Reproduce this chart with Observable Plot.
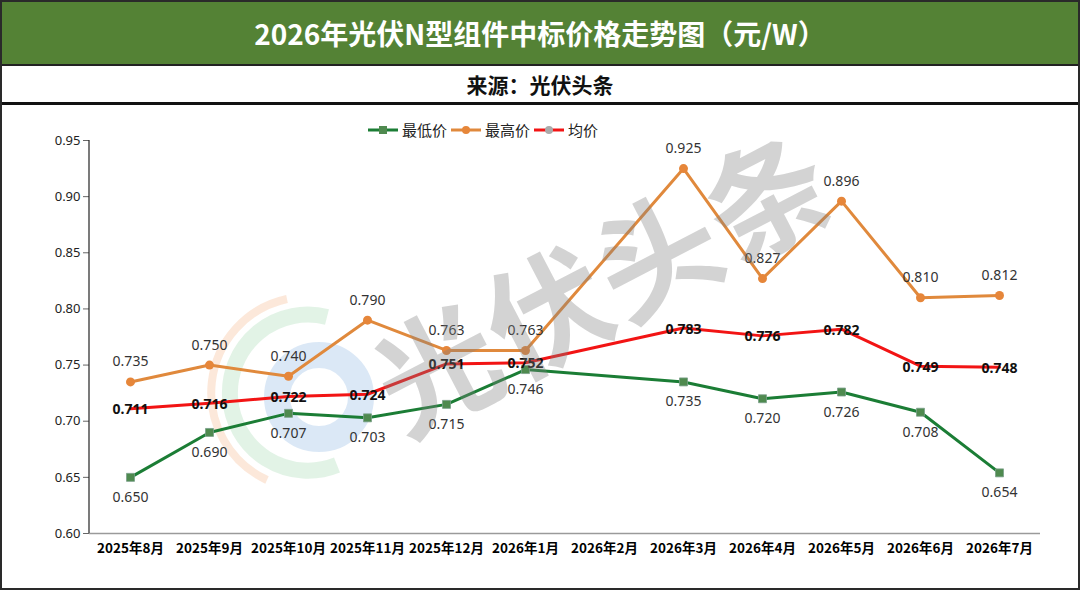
<!DOCTYPE html>
<html><head><meta charset="utf-8">
<script src="https://cdn.jsdelivr.net/npm/d3@7"></script>
<script src="https://cdn.jsdelivr.net/npm/@observablehq/plot@0.6"></script>
<style>
body{margin:0;background:#fff;font-family:"Noto Sans CJK SC","Noto Sans",sans-serif;}
#wrap{width:1080px;height:590px;box-sizing:border-box;border:2px solid #2a2a2a;position:relative;overflow:hidden;background:#fff;}
#title{height:62px;background:#548235;color:#fff;font-weight:700;font-size:28px;text-align:center;line-height:62px;border-bottom:2px solid #222;letter-spacing:0px;}
#sub{height:36px;font-weight:700;font-size:21px;line-height:36px;text-align:center;color:#111;border-bottom:3px solid #111;}
#chart{position:relative;height:483px;}
#chart svg.plot{position:absolute;left:0;top:0;z-index:2;}
#legend{position:absolute;left:366px;top:14px;z-index:3;display:flex;align-items:center;font-size:15px;color:#222;}
#legend .it{display:flex;align-items:center;margin-right:4px;}
#legend svg{margin-right:4px;}
#logo{position:absolute;left:0;top:0;z-index:1;}
#wm{position:absolute;z-index:4;left:598px;top:172px;transform:translate(-50%,-50%) rotate(-27.5deg);font-size:122px;font-weight:700;color:#808080;opacity:0.34;letter-spacing:2px;white-space:nowrap;pointer-events:none;line-height:1;}
</style></head>
<body>
<div id="wrap">
  <div id="title"></div>
  <div id="sub"></div>
  <div id="chart">
    <svg id="logo" width="1076" height="483">
      <g transform="translate(305,288)" fill="none">
        <path d="M -20 -94 A 96 96 0 0 0 -40 87" stroke="rgba(245,190,150,0.35)" stroke-width="8"/>
        <path d="M 20 -76 A 78 78 0 1 0 30 72" stroke="rgba(190,228,200,0.45)" stroke-width="16"/>
        <circle cx="12" cy="4" r="42" stroke="rgba(175,205,235,0.45)" stroke-width="26"/>
      </g>
    </svg>
    <div id="legend"></div>
    <div id="wm">光伏头条</div>
  </div>
</div>
<script>
const titleText = "2026年光伏N型组件中标价格走势图（元/W）";
const subText = "来源：光伏头条";
const months = ["2025年8月","2025年9月","2025年10月","2025年11月","2025年12月","2026年1月","2026年2月","2026年3月","2026年4月","2026年5月","2026年6月","2026年7月"];
const minPrice = [0.650,0.690,0.707,0.703,0.715,0.746,null,0.735,0.720,0.726,0.708,0.654];
const maxPrice = [0.735,0.750,0.740,0.790,0.763,0.763,null,0.925,0.827,0.896,0.810,0.812];
const avgPrice = [0.711,0.716,0.722,0.724,0.751,0.752,null,0.783,0.776,0.782,0.749,0.748];
const seriesNames = ["最低价","最高价","均价"];
const lineColors = ["#1b7d35","#e0893c","#f21414"];
const markerColors = ["#4f8a4f","#e6863a","#aaaaaa"];
const yTicks = [0.60,0.65,0.70,0.75,0.80,0.85,0.90,0.95];

document.getElementById("title").textContent = titleText;
document.getElementById("sub").textContent = subText;

const toRows = arr => months.map((m,i)=>({month:m,value:arr[i]})).filter(d=>d.value!=null);
const low = toRows(minPrice), high = toRows(maxPrice), avg = toRows(avgPrice);
const fmt = d => d.value.toFixed(3);

const chart = Plot.plot({
  width:1076, height:483,
  marginLeft:87, marginRight:38, marginTop:35, marginBottom:55,
  style:{fontFamily:'"Noto Sans","Noto Sans CJK SC",sans-serif', fontSize:"13px", background:"transparent", overflow:"visible"},
  x:{type:"point", domain:months, padding:0.5, label:null},
  y:{domain:[0.6,0.95], label:null},
  marks:[
    Plot.ruleY([0.6],{stroke:"#9a9a9a", strokeWidth:1.5}),
    Plot.axisX({tickSize:0, tickPadding:10, fontWeight:"bold", fontSize:13.5, fill:"#000", fontFamily:'"Noto Sans CJK SC",sans-serif'}),
    Plot.axisY({ticks:yTicks, tickFormat:d3.format(".2f"), tickSize:6, tickPadding:3, stroke:"#666", fill:"#222", fontSize:13}),
    Plot.line(low,{x:"month",y:"value",stroke:lineColors[0],strokeWidth:3}),
    Plot.line(high,{x:"month",y:"value",stroke:lineColors[1],strokeWidth:3}),
    Plot.line(avg,{x:"month",y:"value",stroke:lineColors[2],strokeWidth:3}),
    Plot.dot(low,{x:"month",y:"value",symbol:"square",r:4.5,fill:markerColors[0],stroke:"#7aa08a",strokeWidth:0.8}),
    Plot.dot(high,{x:"month",y:"value",r:4.5,fill:markerColors[1],stroke:"none"}),
    Plot.text(high,{x:"month",y:"value",text:fmt,dy:-20,fill:"#333",fontSize:14}),
    Plot.text(low,{x:"month",y:"value",text:fmt,dy:20,fill:"#333",fontSize:14}),
    Plot.text(avg,{x:"month",y:"value",text:fmt,dy:1,fill:"#111",fontSize:14,fontWeight:"bold"})
  ]
});
const yS = chart.scale("y");
d3.select(chart).append("line")
  .attr("x1",87).attr("x2",87)
  .attr("y1",yS.apply(0.95)).attr("y2",yS.apply(0.6))
  .attr("stroke","#222").attr("stroke-width",1.2);
chart.classList.add("plot");
document.getElementById("chart").appendChild(chart);

const lg = document.getElementById("legend");
seriesNames.forEach((n,i)=>{
  const it = document.createElement("div"); it.className="it";
  const mk = i===0 ? `<rect x="11" y="3" width="8" height="8" fill="${markerColors[0]}"/>` : `<circle cx="15" cy="7" r="4" fill="${markerColors[i]}"/>`;
  it.innerHTML = `<svg width="30" height="14"><line x1="0" x2="30" y1="7" y2="7" stroke="${lineColors[i]}" stroke-width="3"/>${mk}</svg><span>${n}</span>`;
  lg.appendChild(it);
});
</script>
</body></html>
